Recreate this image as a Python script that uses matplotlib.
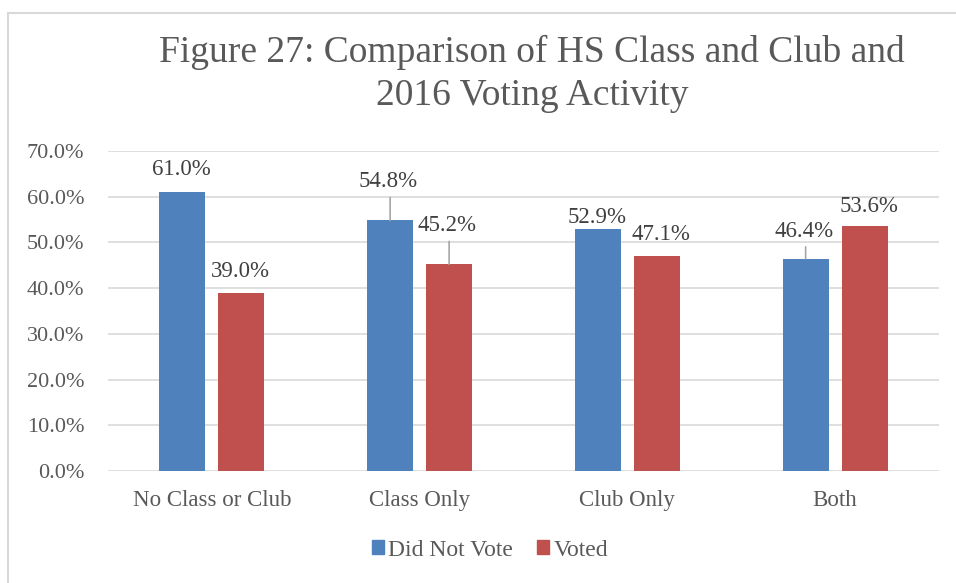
import numpy as np
import matplotlib
matplotlib.use("Agg")
import matplotlib.pyplot as plt
from matplotlib.patches import Patch

plt.rcParams['font.family'] = ['Liberation Serif', 'DejaVu Serif']

groups = ['No Class or Club', 'Class Only', 'Club Only', 'Both']
did_not_vote = [0.610, 0.548, 0.529, 0.464]
voted = [0.390, 0.452, 0.471, 0.536]
yticks = [0.0, 0.1, 0.2, 0.3, 0.4, 0.5, 0.6, 0.7]
title_lines = ['Figure 27: Comparison of HS Class and Club and',
               '2016 Voting Activity']

BLUE = '#4F81BD'
RED = '#C0504D'
TXT = '#595959'
GRID = '#D9D9D9'

# label placement: (dx, dy) in pixels from the bar top, baseline-aligned
# and whether a leader line is drawn back to the bar
dnv_offsets = [(-1, 17), (-2, 33), (-1, 6), (-2, 22)]
dnv_leader = [False, True, False, True]
v_offsets = [(-1, 16), (-2, 33), (4, 16), (4, 14)]
v_leader = [False, True, False, False]

fig = plt.figure(figsize=(9.56, 5.83), dpi=100)
ax = fig.add_axes([108 / 956, 1 - 471 / 583, 831 / 956, 320 / 583])

x = np.arange(len(groups))
w = 0.222
off = 0.142
b1 = ax.bar(x - off, did_not_vote, w, color=BLUE, zorder=3)
b2 = ax.bar(x + off, voted, w, color=RED, zorder=3)

ax.set_xlim(-0.5, len(groups) - 0.5)
ax.set_ylim(0, 0.7)
ax.set_yticks(yticks)
ax.set_yticklabels(['{:.1f}%'.format(v * 100) for v in yticks])
ax.set_xticks(x)
ax.set_xticklabels(groups)
ax.tick_params(axis='both', length=0, labelsize=16, colors=TXT)
ax.tick_params(axis='x', labelsize=16.5)
ax.tick_params(axis='y', pad=17)
ax.tick_params(axis='x', pad=14)
ax.yaxis.grid(True, color=GRID, linewidth=1.2, zorder=0)
ax.set_axisbelow(True)
for s in ax.spines.values():
    s.set_visible(False)


def label_bars(xs, vals, offsets, leaders):
    for xi, v, (dx, dy), lead in zip(xs, vals, offsets, leaders):
        ax.annotate('{:.1f}%'.format(v * 100), xy=(xi, v), xytext=(dx, dy),
                    textcoords='offset pixels', ha='center', va='baseline',
                    fontsize=16.5, color='#404040', zorder=5)
        if lead:
            # leader line from just under the label down to the bar top
            ax.annotate('', xy=(xi, v), xytext=(0, dy - 10),
                        textcoords='offset pixels',
                        arrowprops=dict(arrowstyle='-', color='#A6A6A6',
                                        lw=1.2, shrinkA=0, shrinkB=0),
                        zorder=4)


label_bars(x - off, did_not_vote, dnv_offsets, dnv_leader)
label_bars(x + off, voted, v_offsets, v_leader)

# two-line title, each line placed on its own baseline
for line, base in zip(title_lines, [62, 105]):
    fig.text(532 / 956, 1 - base / 583, line, ha='center', va='baseline',
             fontsize=27, color=TXT)

handles = [Patch(color=BLUE, label='Did Not Vote'),
           Patch(color=RED, label='Voted')]
leg = fig.legend(handles=handles, loc='center', ncol=2,
                 bbox_to_anchor=(490 / 956, 1 - 550 / 583),
                 frameon=False, fontsize=17, handlelength=0.51,
                 handleheight=0.51, handletextpad=0.19, columnspacing=1.0,
                 borderpad=0)
for t in leg.get_texts():
    t.set_color(TXT)

# chart border (only the left and top edges fall inside the image)
fig.add_artist(plt.Line2D([8 / 956, 8 / 956], [0, 1 - 13 / 583],
                          transform=fig.transFigure, color=GRID, lw=1.5))
fig.add_artist(plt.Line2D([8 / 956, 1], [1 - 13 / 583, 1 - 13 / 583],
                          transform=fig.transFigure, color=GRID, lw=1.5))

fig.savefig('out.png', dpi=100)
